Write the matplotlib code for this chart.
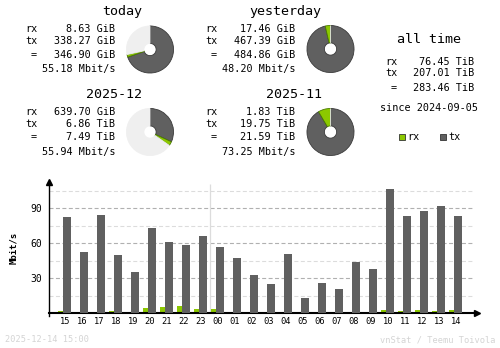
import matplotlib
matplotlib.use("Agg")
import matplotlib.pyplot as plt
from matplotlib.patches import Rectangle

# ---- data ----
hours = ["15", "16", "17", "18", "19", "20", "21", "22", "23", "00", "01", "02",
         "03", "04", "05", "06", "07", "08", "09", "10", "11", "12", "13", "14"]
rx_mbit = [2, 1, 1, 2, 1, 4.5, 5.4, 6.3, 3.7, 3.7, 1, 1,
           0.3, 1, 0.2, 0.3, 0.3, 1, 1, 2.8, 2, 2.8, 2, 2.8]
tx_mbit = [82.5, 52.5, 84.3, 50, 35.4, 73.1, 61.1, 58.5, 66.3, 56.8, 47.4, 32.8,
           25.1, 50.8, 13.1, 26, 20.8, 44, 38, 106.6, 83.4, 87.7, 92, 83.4]

today_rx, today_tx = 8.63, 338.27          # GiB
yest_rx, yest_tx = 17.46, 467.39           # GiB
dec_rx, dec_tx = 639.70 / 1024, 6.86       # TiB
nov_rx, nov_tx = 1.83, 19.75               # TiB

today_lines = ["8.63 GiB", "338.27 GiB", "346.90 GiB", "55.18 Mbit/s"]
yest_lines = ["17.46 GiB", "467.39 GiB", "484.86 GiB", "48.20 Mbit/s"]
dec_lines = ["639.70 GiB", "6.86 TiB", "7.49 TiB", "55.94 Mbit/s"]
nov_lines = ["1.83 TiB", "19.75 TiB", "21.59 TiB", "73.25 Mbit/s"]
alltime_lines = ["76.45 TiB", "207.01 TiB", "283.46 TiB"]

RX = "#8cc800"
TX = "#606060"
BG = "#efefef"
MONO = "DejaVu Sans Mono"

fig = plt.figure(figsize=(5.0, 3.48), dpi=100)
W, H = 500, 348

ov = fig.add_axes([0, 0, 1, 1])
ov.set_xlim(0, W)
ov.set_ylim(H, 0)
ov.axis("off")

def txt(x, y, s, size=7.3, ha="left", color="black", **kw):
    ov.text(x, y, s, fontsize=size, ha=ha, va="center", family=MONO, color=color, **kw)

def block(title, tx_c, ty, x_lab, x_val, y0, lines):
    txt(tx_c, ty, title, size=9.6, ha="center")
    ys = [y0, y0 + 12, y0 + 25.5, y0 + 40]
    txt(x_lab, ys[0], "rx")
    txt(x_lab, ys[1], "tx")
    txt(x_lab + 6, ys[2], "=")
    for s, y in zip(lines, ys):
        txt(x_val, y, s, ha="right")

block("today", 122, 11.5, 25, 115, 29.3, today_lines)
block("yesterday", 285, 11.5, 205, 295, 29.3, yest_lines)
block("2025-12", 114, 94.5, 25, 115, 111.7, dec_lines)
block("2025-11", 294, 94.5, 205, 295, 111.7, nov_lines)

# all time
txt(429, 39.5, "all time", size=9.6, ha="center")
txt(385, 62, "rx")
txt(385, 73.5, "tx")
txt(391, 88, "=")
for s, y in zip(alltime_lines, [62, 73.5, 88]):
    txt(474, y, s, ha="right")
txt(429.5, 108, "since 2024-09-05", ha="center")

ov.add_patch(Rectangle((399, 134), 6, 6, facecolor=RX, edgecolor="#333333", lw=0.6))
txt(407, 137, "rx")
ov.add_patch(Rectangle((440, 134), 6, 6, facecolor=TX, edgecolor="#333333", lw=0.6))
txt(448, 137, "tx")

# footer
txt(5, 340, "2025-12-14 15:00", size=6.2, color="#d4d4d4")
txt(496, 340, "vnStat / Teemu Toivola", size=6.2, ha="right", color="#d4d4d4")

# ---- pies ----
def pie(cx, cy, rx, tx, ref):
    r = 24
    a = fig.add_axes([(cx - r) / W, 1 - (cy + r) / H, 2 * r / W, 2 * r / H])
    rest = max(ref - rx - tx, 0)
    wedges, _ = a.pie([tx, rx, rest], colors=[TX, RX, BG], startangle=90,
                      counterclock=False, radius=1.0,
                      wedgeprops=dict(width=0.74, linewidth=0.6))
    for w, ec in zip(wedges, ["#3a3a3a", "#4a7a00", BG]):
        w.set_edgecolor(ec)
    a.set_xlim(-1.02, 1.02)
    a.set_ylim(-1.02, 1.02)
    a.set_aspect("auto")
    a.axis("off")

day_ref = max(today_rx + today_tx, yest_rx + yest_tx)
mon_ref = max(dec_rx + dec_tx, nov_rx + nov_tx)
pie(150, 49.5, today_rx, today_tx, day_ref)
pie(330.5, 49, yest_rx, yest_tx, day_ref)
pie(150, 132, dec_rx, dec_tx, mon_ref)
pie(330.5, 132, nov_rx, nov_tx, mon_ref)

# ---- bar chart ----
x0_px, step = 65, 17
left_px, right_px = 49, 477
base_px, top_px = 313.3, 182
scale = 35 / 30
xl = ((left_px - x0_px) / step, (right_px - x0_px) / step)
ytop = (base_px - top_px) / scale
bx = fig.add_axes([left_px / W, 1 - base_px / H, (right_px - left_px) / W,
                   (base_px - top_px) / H])
bx.set_xlim(*xl)
bx.set_ylim(0, ytop)
bx.set_facecolor("none")

idx = list(range(len(hours)))
grid_end = (473 - x0_px) / step
for v in [15, 45, 75, 105]:
    bx.hlines(v, xl[0], grid_end, colors="#dcdcdc", lw=0.8, linestyles=(0, (3.6, 2.2)), zorder=1)
for v in [30, 60, 90]:
    bx.hlines(v, xl[0], grid_end, colors="#b0b0b0", lw=0.8, linestyles=(0, (3.6, 2.2)), zorder=1)
bx.vlines(8.5, 0, (base_px - 184) / scale, colors="#dcdcdc", lw=0.9, zorder=1)

bx.bar([i - 0.26 for i in idx], rx_mbit, width=5 / step, color=RX, zorder=2, linewidth=0)
bx.bar([i + 0.12 for i in idx], tx_mbit, width=8 / step, color=TX, zorder=3, linewidth=0)

for s in ["top", "right"]:
    bx.spines[s].set_visible(False)
bx.spines["left"].set_linewidth(1.0)
bx.spines["bottom"].set_linewidth(1.5)
bx.spines["left"].set_bounds(-3 / scale, ytop)
bx.plot([xl[0]], [ytop], marker="^", color="black", ms=4, clip_on=False, zorder=5)
bx.plot([xl[1]], [0], marker=">", color="black", ms=4, clip_on=False, zorder=5)

bx.set_xticks(idx)
bx.set_xticklabels(hours, family=MONO, fontsize=6.3)
bx.set_yticks([30, 60, 90])
bx.set_yticklabels(["30", "60", "90"], family=MONO, fontsize=7)
bx.tick_params(axis="both", length=0)
bx.tick_params(axis="y", pad=5)
bx.tick_params(axis="x", pad=3)
bx.set_ylabel("Mbit/s", family=MONO, fontsize=6.5, fontweight="bold", labelpad=9)

fig.savefig("out.png", dpi=100, facecolor="white")
